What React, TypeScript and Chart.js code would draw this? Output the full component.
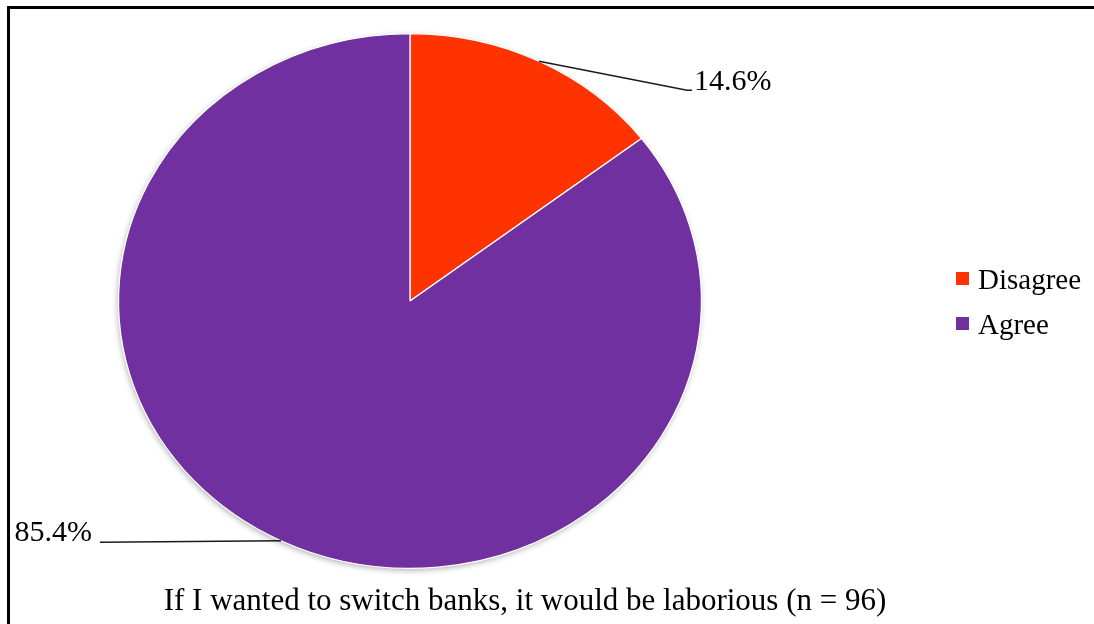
import { useEffect, useRef } from "react";
import { Chart, registerables } from "chart.js";

Chart.register(...registerables);

const categories = ["Disagree", "Agree"];
const values = [14.6, 85.4];
const percentLabels = ["14.6%", "85.4%"];
const colors = ["#FF3300", "#7030A0"];
const titleText = "If I wanted to switch banks, it would be laborious (n = 96)";

const W = 1084;
const H = 615;
const SX = 1.09; // horizontal stretch of the pie (ellipse)
const SERIF = '"Liberation Serif", "Times New Roman", Times, serif';

const ellipsePlugin = {
  id: "ellipsePie",
  beforeDatasetsDraw(chart: any) {
    const meta = chart.getDatasetMeta(0);
    const arc = meta.data[0];
    if (!arc) return;
    const { x, y, outerRadius } = arc.getProps(["x", "y", "outerRadius"], true);
    const ctx = chart.ctx;
    ctx.save();
    ctx.translate(x, 0);
    ctx.scale(SX, 1);
    ctx.translate(-x, 0);
    // soft shadow under the pie
    ctx.save();
    ctx.shadowColor = "rgba(0,0,0,0.35)";
    ctx.shadowBlur = 6;
    ctx.shadowOffsetX = -1;
    ctx.shadowOffsetY = 2;
    ctx.beginPath();
    ctx.arc(x, y, outerRadius - 0.5, 0, Math.PI * 2);
    ctx.fillStyle = colors[1];
    ctx.fill();
    ctx.restore();
  },
  afterDatasetsDraw(chart: any) {
    chart.ctx.restore();
  },
  afterDraw(chart: any) {
    const ctx = chart.ctx;
    const meta = chart.getDatasetMeta(0);
    ctx.save();
    ctx.fillStyle = "#000";
    ctx.strokeStyle = "#1a1a1a";
    ctx.lineWidth = 1.5;
    ctx.font = `30px ${SERIF}`;
    ctx.textBaseline = "alphabetic";
    meta.data.forEach((el: any, i: number) => {
      const { x, y, outerRadius, startAngle, endAngle } = el.getProps(
        ["x", "y", "outerRadius", "startAngle", "endAngle"],
        true
      );
      const mid = (startAngle + endAngle) / 2;
      const ex = x + Math.cos(mid) * outerRadius * SX;
      const ey = y + Math.sin(mid) * outerRadius;
      ctx.beginPath();
      ctx.moveTo(ex, ey);
      if (Math.cos(mid) >= 0) {
        const lx = ex + 148;
        const ly = ey + 29;
        ctx.lineTo(lx, ly);
        ctx.lineTo(lx + 5, ly);
        ctx.stroke();
        ctx.textAlign = "left";
        ctx.fillText(percentLabels[i], lx + 7, ly);
      } else {
        const lx = ex - 181;
        const ly = ey + 1.5;
        ctx.lineTo(lx, ly);
        ctx.stroke();
        ctx.textAlign = "right";
        ctx.fillText(percentLabels[i], lx - 8, ly - 1);
      }
    });

    // legend
    ctx.font = `29px ${SERIF}`;
    ctx.textAlign = "left";
    categories.forEach((c, i) => {
      const top = 263 + i * 45;
      ctx.fillStyle = colors[i];
      ctx.fillRect(946, top, 13, 13);
      ctx.fillStyle = "#000";
      ctx.fillText(c, 968, top + 17);
    });

    // title
    ctx.font = `31px ${SERIF}`;
    ctx.textAlign = "center";
    ctx.fillText(titleText, 515, 601);
    ctx.restore();
  },
};

export default function App() {
  const ref = useRef<HTMLCanvasElement | null>(null);
  useEffect(() => {
    if (!ref.current) return;
    const chart = new Chart(ref.current, {
      type: "pie",
      data: {
        labels: categories,
        datasets: [
          {
            data: values,
            backgroundColor: colors,
            borderColor: "#ffffff",
            borderWidth: 1.2,
          },
        ],
      },
      options: {
        responsive: false,
        animation: false,
        layout: { padding: { left: 132, right: 416, top: 24, bottom: 55 } },
        plugins: {
          legend: { display: false },
          title: { display: false },
          tooltip: { enabled: false },
        },
      },
      plugins: [ellipsePlugin],
    });
    return () => chart.destroy();
  }, []);
  return (
    <div
      style={{
        position: "fixed",
        left: 7,
        top: 6,
        width: 1100,
        height: 630,
        borderLeft: "3px solid #000",
        borderTop: "3px solid #000",
        background: "#fff",
      }}
    >
      <canvas ref={ref} width={W} height={H} style={{ display: "block", width: W, height: H }} />
    </div>
  );
}
